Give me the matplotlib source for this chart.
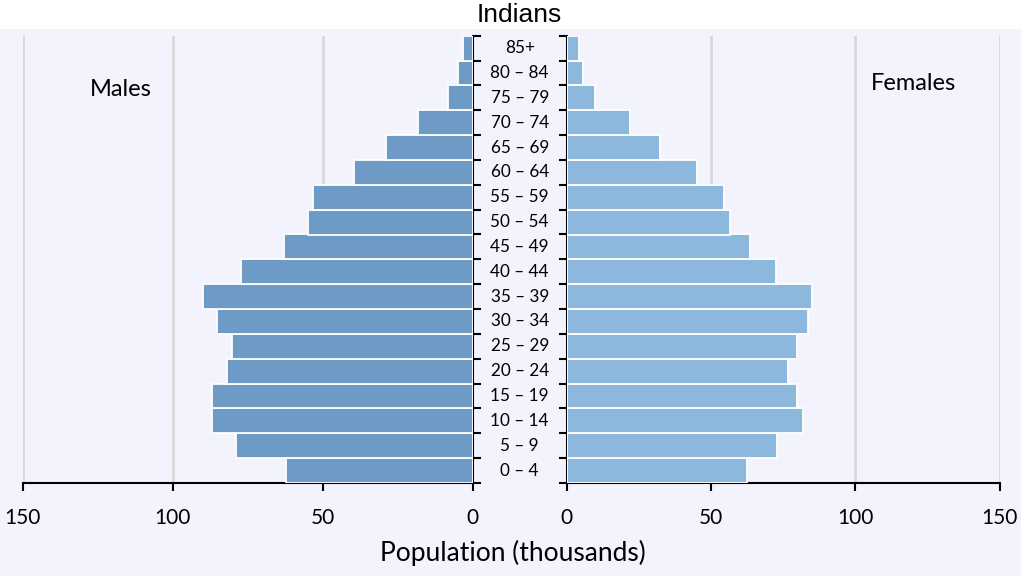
import matplotlib.pyplot as plt
import matplotlib.transforms as mtransforms
from matplotlib.patches import Rectangle

# age groups, bottom to top
ages = ['0 – 4', '5 – 9', '10 – 14', '15 – 19', '20 – 24', '25 – 29', '30 – 34',
        '35 – 39', '40 – 44', '45 – 49', '50 – 54', '55 – 59', '60 – 64',
        '65 – 69', '70 – 74', '75 – 79', '80 – 84', '85+']
males = [62.2, 78.8, 86.8, 87.0, 82.0, 80.3, 85.3, 89.8, 77.2, 62.8,
         54.8, 53.1, 39.7, 29.0, 18.2, 8.3, 4.9, 3.3]
females = [62.3, 72.9, 82.0, 79.7, 76.8, 79.7, 83.5, 85.1, 72.4, 63.5,
           56.5, 54.6, 45.0, 32.2, 21.9, 9.7, 5.75, 4.4]
xticks = [0, 50, 100, 150]

bg = '#F3F3FE'
male_col = '#6E9BC5'
female_col = '#8DB8DE'
W, H = 1021, 576

plt.rcParams['font.family'] = ['Lato', 'DejaVu Sans']

fig = plt.figure(figsize=(W / 100, H / 100), dpi=100)
fig.patch.set_facecolor(bg)
# white band behind the title
fig.patches.append(Rectangle((0, 1 - 29 / H), 1, 29 / H, transform=fig.transFigure,
                             facecolor='white', edgecolor='none', zorder=0))

bottom = (H - 483) / H
height = (483 - 35.7) / H
axl = fig.add_axes([22.7 / W, bottom, 450 / W, height])
axr = fig.add_axes([566.7 / W, bottom, 433 / W, height])

pos = list(range(len(ages)))
axl.barh(pos, males, height=1, color=male_col, edgecolor='white', linewidth=1.3, zorder=3)
axr.barh(pos, females, height=1, color=female_col, edgecolor='white', linewidth=1.3, zorder=3)

axl.set_xlim(150, 0)
axr.set_xlim(0, 150)

for ax in (axl, axr):
    ax.set_facecolor('none')
    ax.set_ylim(-0.5, len(ages) - 0.5)
    ax.set_yticks([p - 0.5 for p in pos] + [len(ages) - 0.5])
    ax.set_yticklabels([])
    ax.set_xticks(xticks)
    ax.tick_params(axis='x', labelsize=15, length=6, width=1.5, pad=12)
    ax.tick_params(axis='y', length=6, width=1.5)
    ax.grid(axis='x', color='#D9D9D9', linewidth=2, zorder=0)
    ax.set_axisbelow(True)
    ax.spines['top'].set_visible(False)
    for s in ('bottom', 'left', 'right'):
        ax.spines[s].set_linewidth(1.5)

axl.spines['left'].set_visible(False)
axl.yaxis.tick_right()
axr.spines['right'].set_visible(False)
axr.yaxis.tick_left()

# age labels in the gap between the two halves
tr = mtransforms.blended_transform_factory(fig.transFigure, axl.transData)
for p, a in zip(pos, ages):
    fig.text(519.7 / W, p, a, transform=tr, ha='center', va='center', fontsize=12.3)

fig.text(519.7 / W, 1 - 15 / H, 'Indians', ha='center', va='center', fontsize=19,
         family=['Liberation Sans', 'DejaVu Sans'])
fig.text(121 / W, 1 - 90 / H, 'Males', ha='center', va='center', fontsize=17)
fig.text(913 / W, 1 - 83 / H, 'Females', ha='center', va='center', fontsize=17)
fig.text(513 / W, 1 - 553 / H, 'Population (thousands)', ha='center', va='center', fontsize=19)

fig.savefig('out.png', dpi=100, facecolor=bg)
